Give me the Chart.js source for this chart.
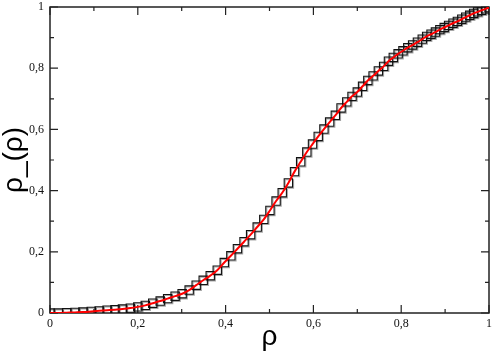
<!DOCTYPE html>
<html>
<head>
<meta charset="utf-8">
<script src="https://cdn.jsdelivr.net/npm/chart.js@4/dist/chart.umd.min.js"></script>
<style>
  body { margin: 0; background: #fff; }
  #wrap { width: 496px; height: 354px; }
</style>
</head>
<body>
<div id="wrap"><canvas id="chart" width="496" height="354"></canvas></div>
<script>
// rho values (x) – sampling gets denser towards rho = 1, as in the picture
const rhoValues = [0, 0.019, 0.038, 0.057, 0.075, 0.094, 0.112, 0.130, 0.148, 0.165,
    0.183, 0.200, 0.217, 0.234, 0.251, 0.268, 0.285, 0.301, 0.317, 0.333,
    0.349, 0.365, 0.381, 0.397, 0.412, 0.427, 0.442, 0.457, 0.472, 0.487,
    0.501, 0.515, 0.529, 0.543, 0.557, 0.571, 0.585, 0.598, 0.611, 0.624,
    0.637, 0.650, 0.663, 0.676, 0.688, 0.700, 0.712, 0.724, 0.736, 0.748,
    0.760, 0.771, 0.782, 0.793, 0.804, 0.815, 0.826, 0.837, 0.848, 0.858,
    0.868, 0.878, 0.888, 0.898, 0.908, 0.918, 0.928, 0.938, 0.947, 0.956,
    0.965, 0.974, 0.983, 0.992, 1.0];
// measured rho_(rho) (squares)
const measured = [0.000, 0.000, 0.001, 0.002, 0.003, 0.005, 0.007, 0.009, 0.011, 0.013,
    0.016, 0.020, 0.025, 0.032, 0.039, 0.047, 0.055, 0.063, 0.075, 0.091,
    0.107, 0.122, 0.140, 0.165, 0.187, 0.210, 0.233, 0.256, 0.281, 0.306,
    0.335, 0.366, 0.393, 0.425, 0.462, 0.494, 0.526, 0.552, 0.577, 0.601,
    0.624, 0.646, 0.670, 0.690, 0.708, 0.722, 0.741, 0.760, 0.775, 0.791,
    0.806, 0.823, 0.835, 0.847, 0.857, 0.867, 0.876, 0.885, 0.895, 0.904,
    0.911, 0.918, 0.926, 0.933, 0.940, 0.947, 0.953, 0.960, 0.967, 0.973,
    0.979, 0.984, 0.989, 0.994, 0.998];
const fitted = measured; // red curve runs through the squares

const majorTicks = [0, 0.2, 0.4, 0.6, 0.8, 1];
const minorTicks = [0.1, 0.3, 0.5, 0.7, 0.9];

const fmt = v => {
    if (v === 0 || v === 1) return String(v);
    return v.toFixed(1).replace('.', ',');
};

// frame + inward ticks on all four sides
const framePlugin = {
    id: 'frame',
    beforeDatasetsDraw(chart) {
        const { ctx, chartArea: a, scales: { x, y } } = chart;
        ctx.save();
        ctx.strokeStyle = '#222';
        ctx.lineWidth = 1.5;
        ctx.strokeRect(a.left, a.top, a.right - a.left, a.bottom - a.top);
        ctx.lineWidth = 1.2;
        const draw = (vals, len) => {
            vals.forEach(v => {
                const px = x.getPixelForValue(v);
                const py = y.getPixelForValue(v);
                ctx.beginPath();
                ctx.moveTo(px, a.bottom); ctx.lineTo(px, a.bottom - len);
                ctx.moveTo(px, a.top); ctx.lineTo(px, a.top + len);
                ctx.moveTo(a.left, py); ctx.lineTo(a.left + len, py);
                ctx.moveTo(a.right, py); ctx.lineTo(a.right - len, py);
                ctx.stroke();
            });
        };
        draw(majorTicks, 8);
        draw(minorTicks, 4);
        ctx.restore();
    },
    // grey drop shadow under the square markers
    beforeDatasetDraw(chart, args) {
        if (args.index === 1) {
            const ctx = chart.ctx;
            ctx.save();
            ctx.shadowColor = 'rgba(0,0,0,0.35)';
            ctx.shadowOffsetX = 1;
            ctx.shadowOffsetY = 1;
            ctx.shadowBlur = 0;
        }
    },
    afterDatasetDraw(chart, args) {
        if (args.index === 1) chart.ctx.restore();
    }
};

const tickFont = { family: 'Liberation Serif', size: 12 };
const titleFont = { family: 'Liberation Sans', size: 28 };

new Chart(document.getElementById('chart'), {
    type: 'scatter',
    data: {
        datasets: [{
            label: 'fit',
            data: rhoValues.map((r, i) => ({ x: r, y: fitted[i] })),
            showLine: true,
            borderColor: '#ff0000',
            borderWidth: 2,
            pointRadius: 0,
            cubicInterpolationMode: 'monotone'
        }, {
            label: 'data',
            data: rhoValues.map((r, i) => ({ x: r, y: measured[i] })),
            showLine: false,
            pointStyle: 'rect',
            pointRadius: 5.9,
            borderColor: '#111',
            borderWidth: 1.1,
            backgroundColor: 'rgba(0,0,0,0)'
        }]
    },
    options: {
        responsive: false,
        animation: false,
        layout: { padding: { top: 5, right: 6, left: 0, bottom: 0 } },
        plugins: { legend: { display: false }, tooltip: { enabled: false } },
        scales: {
            x: {
                type: 'linear', min: 0, max: 1,
                grid: { display: false, drawTicks: false },
                border: { display: false },
                ticks: { stepSize: 0.2, font: tickFont, color: '#111', padding: 4, maxRotation: 0,
                    callback: v => fmt(v) },
                title: { display: true, text: 'ρ', font: titleFont, color: '#000', padding: 0 },
                afterFit: s => { s.height = 41; s.paddingLeft = 0; s.paddingRight = 0; }
            },
            y: {
                type: 'linear', min: 0, max: 1,
                grid: { display: false, drawTicks: false },
                border: { display: false },
                ticks: { stepSize: 0.2, font: tickFont, color: '#111', padding: 6,
                    callback: v => fmt(v) },
                title: { display: true, text: 'ρ_(ρ)', font: titleFont, color: '#000',
                    padding: { top: -3, bottom: 0 } },
                afterFit: s => { s.width = 50; s.paddingTop = 0; s.paddingBottom = 0; }
            }
        }
    },
    plugins: [framePlugin]
});
</script>
</body>
</html>
